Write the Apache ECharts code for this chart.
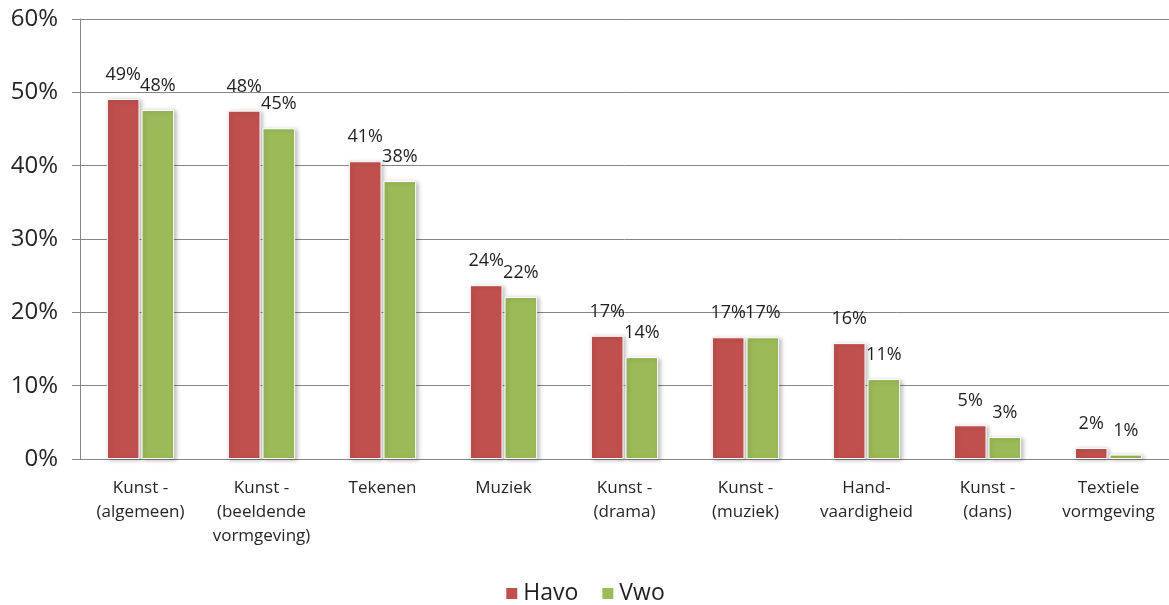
<!DOCTYPE html>
<html>
<head>
<meta charset="utf-8">
<script src="https://cdn.jsdelivr.net/npm/echarts@6/dist/echarts.min.js"></script>
<style>
    html, body { margin: 0; padding: 0; background: #fff; }
    #chart { width: 1169px; height: 605px; }
</style>
</head>
<body>
<div id="chart"></div>
<script>
var categories = [
    'Kunst -\n(algemeen)',
    'Kunst -\n(beeldende\nvormgeving)',
    'Tekenen',
    'Muziek',
    'Kunst -\n(drama)',
    'Kunst -\n(muziek)',
    'Hand-\nvaardigheid',
    'Kunst -\n(dans)',
    'Textiele\nvormgeving'
];
var havo = [49.1, 47.5, 40.6, 23.7, 16.8, 16.6, 15.8, 4.6, 1.5];
var vwo = [47.6, 45.1, 37.9, 22.1, 13.9, 16.6, 10.9, 3.0, 0.6];
var yTicks = [0, 10, 20, 30, 40, 50, 60];

var font = '"Open Sans", "Noto Sans", sans-serif';

function barSeries(name, data, color) {
    return {
        name: name,
        type: 'bar',
        data: data,
        barWidth: '27%',
        barGap: '6%',
        itemStyle: {
            color: color,
            borderColor: '#fff',
            borderWidth: 1,
            shadowColor: 'rgba(0,0,0,0.25)',
            shadowBlur: 4,
            shadowOffsetX: 2,
            shadowOffsetY: 1
        },
        label: {
            show: true,
            position: 'top',
            distance: 15,
            color: '#1f1f1f',
            fontFamily: font,
            fontSize: 18,
            formatter: function(p) {
                return Math.round(p.value) + '%';
            }
        }
    };
}

var option = {
    animation: false,
    backgroundColor: '#fff',
    grid: {
        left: 80,
        right: 0,
        top: 19,
        bottom: 146
    },
    legend: {
        top: 577,
        left: 'center',
        itemWidth: 13,
        itemHeight: 13,
        itemGap: 22,
        icon: 'rect',
        textStyle: {
            fontFamily: font,
            fontSize: 23,
            color: '#1f1f1f'
        },
        data: ['Havo', 'Vwo']
    },
    xAxis: {
        type: 'category',
        data: categories,
        axisLine: {
            lineStyle: { color: '#868686' }
        },
        axisTick: {
            length: 6,
            lineStyle: { color: '#868686' }
        },
        axisLabel: {
            interval: 0,
            margin: 17,
            color: '#262626',
            fontFamily: font,
            fontSize: 17,
            lineHeight: 24
        }
    },
    yAxis: {
        type: 'value',
        min: yTicks[0],
        max: yTicks[yTicks.length - 1],
        interval: 10,
        axisLine: {
            show: true,
            lineStyle: { color: '#868686' }
        },
        axisTick: {
            show: true,
            length: 8,
            lineStyle: { color: '#868686' }
        },
        axisLabel: {
            margin: 22,
            color: '#262626',
            fontFamily: font,
            fontSize: 24,
            formatter: '{value}%'
        },
        splitLine: {
            lineStyle: { color: '#868686' }
        }
    },
    series: [
        barSeries('Havo', havo, '#C0504D'),
        barSeries('Vwo', vwo, '#9BBB59')
    ]
};

echarts.init(document.getElementById('chart')).setOption(option);
</script>
</body>
</html>
